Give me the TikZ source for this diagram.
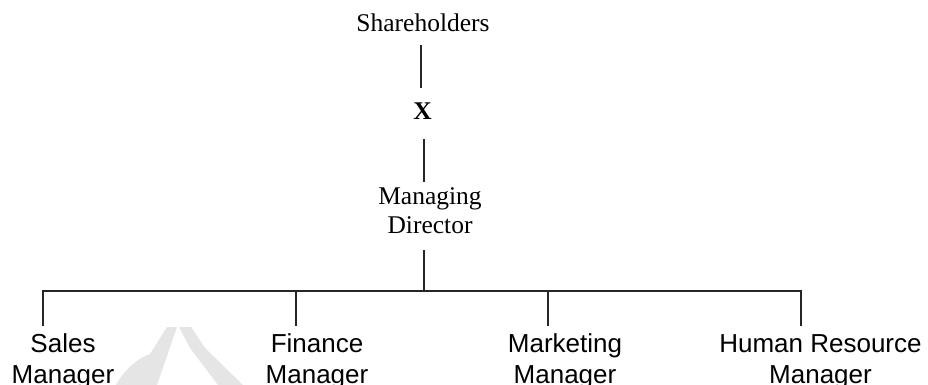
\documentclass[tikz,border=0pt]{standalone}
\usepackage{fontspec}
\setmainfont{Liberation Serif}
\newfontfamily\arialfont{Liberation Sans}
\begin{document}
\begin{tikzpicture}[x=1pt,y=-1pt,
  serif/.style={font=\fontsize{25.5}{29}\selectfont, inner sep=0pt, anchor=base, align=center},
  role/.style={font=\arialfont\fontsize{26}{31}\selectfont, inner sep=0pt, anchor=base, align=center},
  conn/.style={draw=black!85, line width=1.2pt},
  wmark/.style={fill=black!10, draw=none}]
\useasboundingbox (0,0) rectangle (928,385);

% faint background watermark strokes
\path[wmark] (116,385) .. controls (124,370) and (138,358) .. (150,354)
  -- (167,327) -- (177,327) -- (157,385) -- cycle;
\path[wmark] (179,327) -- (191,327) -- (205,348) -- (243,385)
  -- (218,385) -- (190,348) -- cycle;

% upper chain (multi-line nodes are placed by their last baseline)
\node[serif] (sh) at (423,32) {Shareholders};
\node[serif, font=\bfseries\fontsize{25.5}{29}\selectfont] (xx) at (422.5,120) {X};
\node[serif] (md) at (430,233) {Managing\\Director};
\coordinate (hub) at (424,291);

% managers
\node[role] (sales) at (63,383) {Sales\\Manager};
\node[role] (fin) at (317,383) {Finance\\Manager};
\node[role] (mkt) at (565,383) {Marketing\\Manager};
\node[role] (hr) at (820.5,383) {Human Resource\\Manager};

% connectors
\draw[conn] ([shift={(-2,13)}]sh.base) -- ([shift={(-1.5,-32)}]xx.base);
\draw[conn] ([shift={(1.5,19)}]xx.base) -- ([shift={(-6,-51)}]md.base);
\draw[conn] ([shift={(-6,17)}]md.base) -- (hub);
\draw[conn] ([shift={(-20,-57)}]sales.base) -- ([shift={(-20,-92)}]sales.base)
  -| ([shift={(-19.5,-57)}]hr.base);
\draw[conn] ([shift={(-21,-57)}]fin.base) -- ([shift={(-21,-92)}]fin.base);
\draw[conn] ([shift={(-17,-57)}]mkt.base) -- ([shift={(-17,-92)}]mkt.base);
\end{tikzpicture}
\end{document}
